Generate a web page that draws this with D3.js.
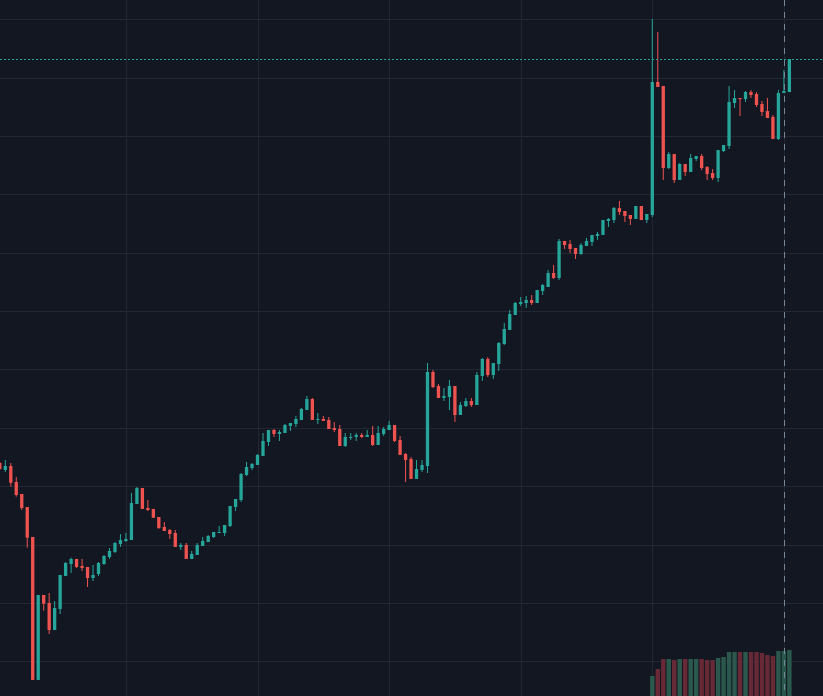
<!DOCTYPE html>
<html><head><meta charset="utf-8">
<script src="https://cdn.jsdelivr.net/npm/d3@7"></script>
<style>html,body{margin:0;padding:0;background:#131722;overflow:hidden}</style>
</head><body><svg id="chart" width="823" height="696"></svg>
<script>
// ---- data (hourly candles) ----
const open = [43.98,42.78,43.46,40.72,38.67,36.44,31.30,6.80,21.36,19.99,
15.36,18.96,24.62,26.67,27.53,26.33,26.16,24.27,24.96,26.67,
27.87,28.73,30.10,30.61,30.78,36.95,39.69,36.27,36.10,34.72,
33.01,32.50,31.98,29.59,29.93,27.53,28.21,29.76,30.44,31.30,
31.98,31.98,33.18,36.44,37.64,41.92,43.12,43.64,45.18,47.58,
49.63,48.95,49.12,50.32,50.66,51.35,53.06,54.94,51.35,51.52,
51.35,49.98,49.80,46.89,48.26,48.43,48.78,48.43,48.78,47.06,
48.95,49.63,50.49,47.92,45.52,44.66,41.24,42.78,43.46,59.57,
57.17,55.12,55.29,57.17,52.20,53.74,54.60,53.92,58.89,61.80,
59.05,60.94,64.37,66.77,69.34,71.22,71.39,71.91,71.39,73.45,
74.13,76.53,75.68,82.02,81.50,80.82,79.79,81.16,81.85,82.87,
83.05,85.44,85.61,87.67,87.16,86.47,85.79,88.01,85.61,86.47,
109.26,108.57,94.52,96.92,92.47,95.21,93.84,96.07,96.58,94.69,
93.66,92.81,97.43,98.29,105.66,106.52,106.34,107.54,107.20,105.49,
104.29,103.26,99.49,107.37,107.54];
const high = [44.15,44.49,43.98,41.58,38.67,36.44,31.30,21.36,21.36,21.70,
20.33,24.79,27.01,27.75,27.53,27.53,26.16,26.50,27.01,28.21,
29.41,30.44,31.81,31.98,38.84,39.86,39.69,37.64,36.10,34.72,
33.87,32.67,32.50,30.27,30.27,28.90,30.27,31.30,31.64,32.16,
33.18,33.35,36.61,37.81,42.26,44.15,43.98,45.52,49.12,49.63,
49.80,49.63,50.66,50.83,52.03,53.40,55.46,55.12,52.55,52.03,
51.86,51.00,50.49,49.12,49.12,49.12,49.12,49.63,50.32,50.32,
50.14,51.18,50.49,48.60,45.69,45.01,44.49,44.49,61.11,59.91,
57.51,56.83,58.20,57.17,54.43,55.12,55.12,59.57,61.97,62.14,
61.11,64.71,67.97,70.19,71.56,72.42,72.59,72.76,73.62,74.65,
77.05,77.90,82.36,82.02,82.19,80.82,81.67,82.53,83.05,83.56,
85.61,85.96,87.84,88.87,87.16,86.47,88.01,88.01,86.64,120.06,
117.83,108.57,97.26,96.92,95.38,95.21,96.92,96.58,96.92,94.86,
94.35,97.60,98.46,108.57,107.88,106.52,107.71,107.88,107.54,106.00,
106.52,103.60,107.88,111.31,113.20];
const low = [42.78,42.44,39.92,38.20,35.92,29.47,6.80,6.80,18.67,14.68,
15.36,18.10,24.62,25.13,25.99,25.47,22.73,23.76,24.62,26.50,
27.53,28.56,29.59,30.44,30.78,36.95,36.10,35.75,34.55,32.67,
32.33,30.96,29.59,29.07,27.53,27.53,28.21,29.76,30.44,31.13,
31.98,31.47,33.01,35.75,37.30,41.75,42.78,43.64,45.18,46.89,
48.43,47.75,49.12,49.46,50.14,51.35,53.06,51.35,50.66,51.18,
49.80,49.29,46.89,46.72,47.92,47.75,48.26,48.43,46.89,47.06,
48.60,49.63,47.58,45.35,40.72,41.24,41.24,42.44,42.26,56.83,
55.12,54.60,53.06,51.00,52.20,53.57,53.57,53.92,58.03,58.71,
58.37,59.74,64.20,66.77,69.34,70.88,70.54,71.05,71.39,72.76,
74.13,75.51,75.34,80.65,79.96,78.93,79.62,81.16,81.16,82.19,
83.05,84.41,85.10,86.47,85.27,84.76,85.79,85.61,85.10,86.13,
108.40,92.47,94.35,91.95,92.47,93.15,93.84,95.72,94.18,92.47,
92.47,92.12,97.26,97.78,104.80,103.43,105.83,106.52,104.98,103.43,
103.09,99.49,99.32,107.37,107.54];
const close = [42.95,43.46,40.60,38.50,36.27,31.18,6.80,21.36,19.87,15.36,
19.13,24.79,26.84,27.53,26.16,25.99,24.27,24.79,26.84,28.04,
28.90,30.27,30.78,30.96,37.12,39.69,36.10,35.92,34.60,32.84,
32.33,31.81,29.59,29.93,27.53,28.39,29.93,30.61,31.47,32.16,
32.16,33.35,36.61,37.81,42.09,43.29,43.81,45.35,47.75,49.63,
48.95,49.29,50.49,50.83,51.52,53.23,54.94,51.35,51.52,51.18,
49.80,49.63,46.89,48.43,48.43,48.78,48.43,48.78,47.06,49.12,
49.80,50.49,47.75,45.35,44.49,41.24,42.95,43.64,59.57,57.00,
55.12,55.46,57.17,52.20,53.92,54.60,53.92,59.05,61.80,59.05,
61.11,64.54,66.94,69.51,71.39,71.56,71.91,71.39,73.62,74.48,
76.53,75.68,82.02,81.33,80.65,79.79,81.33,82.02,83.05,83.22,
85.61,85.79,87.67,86.99,86.30,85.79,88.01,85.61,86.64,109.26,
108.40,94.52,96.92,92.47,95.21,93.84,96.24,96.58,94.52,93.49,
92.81,97.60,98.46,105.83,106.52,106.34,107.54,107.03,105.32,104.12,
103.09,99.49,107.37,107.71,113.20];
// volume is only available for the last candles
const volumeStart = 119;
const volume = [1000,1350,1850,1850,1800,1850,1850,1850,1850,1850,
1800,1800,1900,1950,2200,2200,2200,2200,2200,2200,
2150,2050,2000,2250,2250,2300];
const startTime = new Date(2024, 0, 1, 1, 0);
const crosshairIndex = 143;

// ---- setup ----
const W = 823, H = 696;
const UP = "#26a69a", DOWN = "#ef5350";
const n = close.length;
const times = d3.range(n).map(i => d3.timeHour.offset(startTime, i));
const data = times.map((t, i) => ({t, o: open[i], h: high[i], l: low[i], c: close[i],
  v: i >= volumeStart ? volume[i - volumeStart] : null}));

const x = d3.scaleTime().domain([times[0], times[n - 1]]).range([-0.18, 789.37]);
const y = d3.scaleLinear().domain([4.05, 123.31]).range([H, 0]);
const yv = d3.scaleLinear().domain([0, 2300]).range([H, 650]);

const svg = d3.select("#chart");
svg.append("rect").attr("width", W).attr("height", H).attr("fill", "#131722");

// grid via axes
const gridColor = "#232733";
const gy = svg.append("g").attr("class", "grid-y")
  .call(d3.axisRight(y).tickValues(d3.range(10, 121, 10)).tickSize(W).tickFormat(""));
const gx = svg.append("g").attr("class", "grid-x")
  .call(d3.axisBottom(x).ticks(d3.timeDay.every(1)).tickSize(H).tickFormat(""));
svg.selectAll(".grid-y .domain, .grid-x .domain").remove();
svg.selectAll(".grid-y line, .grid-x line").attr("stroke", gridColor).attr("stroke-width", 1)
  .attr("shape-rendering", "crispEdges");

// volume bars
const vw = 4.4;
svg.append("g").selectAll("rect").data(data.filter(d => d.v != null)).join("rect")
  .attr("x", d => x(d.t) - vw / 2)
  .attr("y", d => yv(d.v))
  .attr("width", vw)
  .attr("height", d => H - yv(d.v))
  .attr("fill", d => d.c >= d.o ? "#2b584c" : "#682936");

// candles
const bw = 3.3;
const cg = svg.append("g").selectAll("g").data(data).join("g")
  .attr("fill", d => d.c >= d.o ? UP : DOWN);
cg.append("rect")
  .attr("x", d => x(d.t) - 0.5)
  .attr("y", d => y(d.h))
  .attr("width", 1)
  .attr("height", d => Math.max(1, y(d.l) - y(d.h)));
cg.append("rect")
  .attr("x", d => x(d.t) - bw / 2)
  .attr("y", d => y(Math.max(d.o, d.c)))
  .attr("width", bw)
  .attr("height", d => Math.max(1, Math.abs(y(d.o) - y(d.c))));

// last price line
const last = data[n - 1];
svg.append("line")
  .attr("x1", 0).attr("x2", W)
  .attr("y1", Math.round(y(last.c)) + 0.5).attr("y2", Math.round(y(last.c)) + 0.5)
  .attr("stroke", last.c >= last.o ? UP : DOWN).attr("stroke-width", 1)
  .attr("stroke-dasharray", "2,2");

// crosshair vertical line
const cx = Math.round(x(times[crosshairIndex])) + 0.5;
svg.append("line")
  .attr("x1", cx).attr("x2", cx).attr("y1", 0).attr("y2", H)
  .attr("stroke", "#758696").attr("stroke-width", 1)
  .attr("stroke-dasharray", "6,6");
</script></body></html>
